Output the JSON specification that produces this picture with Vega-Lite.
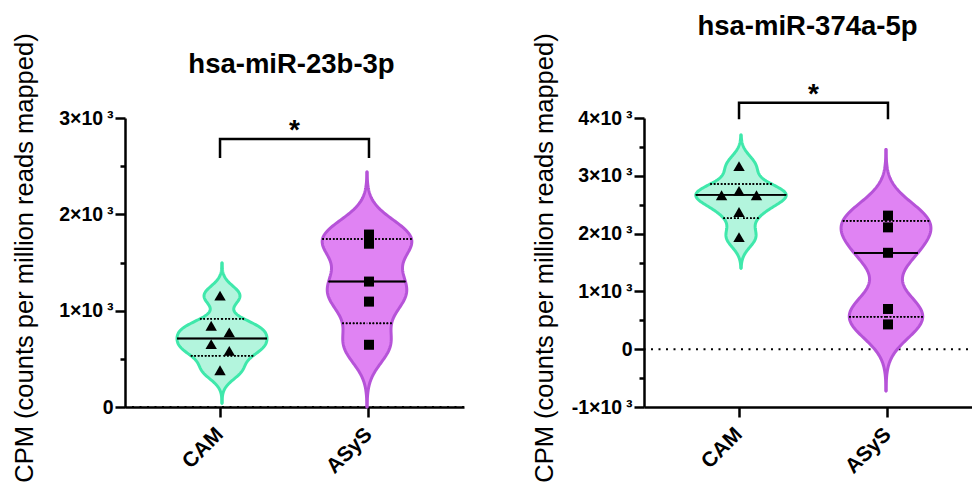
{
  "$schema": "https://vega.github.io/schema/vega-lite/v6.json",
  "background": "white",
  "padding": {"left": 11, "top": 12, "right": 0, "bottom": 0},
  "bounds": "flush",
  "spacing": 180,
  "config": {
    "view": {"stroke": null},
    "font": "Liberation Sans",
    "axis": {
      "domainColor": "black", "domainWidth": 2.5, "tickColor": "black", "tickWidth": 2.5,
      "labelColor": "black", "labelFont": "Liberation Sans", "labelFontWeight": "bold",
      "grid": false, "titleColor": "black", "titleFont": "Liberation Sans", "titleFontWeight": "normal"
    }
  },
  "datasets": {
    "points": [
      {"panel": "p1", "group": "CAM", "value": 1156, "jitter": 0},
      {"panel": "p1", "group": "CAM", "value": 844, "jitter": -0.43},
      {"panel": "p1", "group": "CAM", "value": 774, "jitter": 0.45},
      {"panel": "p1", "group": "CAM", "value": 653, "jitter": -0.43},
      {"panel": "p1", "group": "CAM", "value": 583, "jitter": 0.45},
      {"panel": "p1", "group": "CAM", "value": 382, "jitter": 0},
      {"panel": "p1", "group": "ASyS", "value": 1790, "jitter": 0},
      {"panel": "p1", "group": "ASyS", "value": 1695, "jitter": 0},
      {"panel": "p1", "group": "ASyS", "value": 1302, "jitter": 0},
      {"panel": "p1", "group": "ASyS", "value": 1094, "jitter": 0},
      {"panel": "p1", "group": "ASyS", "value": 646, "jitter": 0},
      {"panel": "p2", "group": "CAM", "value": 3167, "jitter": 0},
      {"panel": "p2", "group": "CAM", "value": 2740, "jitter": 0},
      {"panel": "p2", "group": "CAM", "value": 2663, "jitter": -0.85},
      {"panel": "p2", "group": "CAM", "value": 2663, "jitter": 0.85},
      {"panel": "p2", "group": "CAM", "value": 2373, "jitter": 0},
      {"panel": "p2", "group": "CAM", "value": 1940, "jitter": 0},
      {"panel": "p2", "group": "ASyS", "value": 2311, "jitter": 0},
      {"panel": "p2", "group": "ASyS", "value": 2108, "jitter": 0},
      {"panel": "p2", "group": "ASyS", "value": 1668, "jitter": 0},
      {"panel": "p2", "group": "ASyS", "value": 696, "jitter": 0},
      {"panel": "p2", "group": "ASyS", "value": 429, "jitter": 0}
    ],
    "brackets": [
      {"panel": "p1", "group": "CAM", "value": 2585, "ord": 1},
      {"panel": "p1", "group": "CAM", "value": 2783, "ord": 2},
      {"panel": "p1", "group": "ASyS", "value": 2783, "ord": 3},
      {"panel": "p1", "group": "ASyS", "value": 2585, "ord": 4},
      {"panel": "p2", "group": "CAM", "value": 3980, "ord": 1},
      {"panel": "p2", "group": "CAM", "value": 4265, "ord": 2},
      {"panel": "p2", "group": "ASyS", "value": 4265, "ord": 3},
      {"panel": "p2", "group": "ASyS", "value": 3980, "ord": 4}
    ],
    "signif": [
      {"panel": "p1", "group": "CAM vs ASyS", "value": 2783, "label": "*"},
      {"panel": "p2", "group": "CAM vs ASyS", "value": 4265, "label": "*"}
    ]
  },
  "hconcat": [
    {
      "width": 339, "height": 289,
      "title": {"text": "hsa-miR-23b-3p", "font": "Liberation Sans", "fontSize": 27.5, "fontWeight": "bold", "color": "black", "anchor": "middle", "frame": "group", "offset": -45.5, "dx": -3},
      "encoding": {
        "y": {
          "field": "value", "type": "quantitative",
          "scale": {"domain": [0, 3000], "nice": false, "zero": false},
          "axis": {
            "values": [0, 500, 1000, 1500, 2000, 2500, 3000],
            "labelExpr": "datum.value % 1000 != 0 ? '' : (datum.value == 0 ? '0' : (datum.value / 1000) + '×10\u2009³')",
            "labelFontSize": 19.5, "labelPadding": 2, "labelOverlap": false, "labelFlush": false,
            "tickSize": {"condition": {"test": "datum.value % 1000 != 0", "value": 5}, "value": 10},
            "title": "CPM (counts per million reads mapped)", "titleFontSize": 25.5,
            "titleX": -93, "titleY": 139.5, "titleAngle": -90, "titleBaseline": "alphabetic", "titleAlign": "center"
          }
        }
      },
      "layer": [
        {
          "data": {"values": [{"value": 0}]},
          "mark": {"type": "rule", "color": "black", "strokeWidth": 2, "strokeDash": [2, 5.5]},
          "encoding": {}
        },
        {
          "data": {"name": "points"},
          "transform": [{"filter": "datum.panel == 'p1' && datum.group == 'CAM'"}],
          "layer": [
            {
              "encoding": {"x": {"field": "density", "type": "quantitative", "stack": null, "scale": {"domain": [-0.0036175, 0.0090251], "nice": false}, "axis": null}},
              "layer": [
                {"transform": [{"density": "value", "bandwidth": 100, "extent": [40, 1495], "steps": 200}],
                 "mark": {"type": "area", "orient": "horizontal", "color": "#b3f5dd", "strokeWidth": 0}, "encoding": {"x2": {"datum": 0}}},
                {"transform": [{"density": "value", "bandwidth": 100, "extent": [40, 1495], "steps": 200}],
                 "mark": {"type": "line", "color": "#3fe8ab", "strokeWidth": 3, "strokeCap": "round"}, "encoding": {"order": {"field": "value", "type": "quantitative"}}},
                {"transform": [{"density": "value", "bandwidth": 100, "extent": [710, 710.5], "steps": 2}],
                 "mark": {"type": "rule", "color": "black", "strokeWidth": 1.5}, "encoding": {"x2": {"datum": 0}}},
                {"transform": [{"density": "value", "bandwidth": 100, "extent": [915, 915.5], "steps": 2}],
                 "mark": {"type": "rule", "color": "black", "strokeWidth": 1.5, "strokeDash": [1.5, 2]}, "encoding": {"x2": {"datum": 0}}},
                {"transform": [{"density": "value", "bandwidth": 100, "extent": [532, 532.5], "steps": 2}],
                 "mark": {"type": "rule", "color": "black", "strokeWidth": 1.5, "strokeDash": [1.5, 2]}, "encoding": {"x2": {"datum": 0}}}
              ]
            },
            {
              "encoding": {"x": {"field": "density", "type": "quantitative", "stack": null, "scale": {"domain": [-0.0090251, 0.0036175], "nice": false, "reverse": true}, "axis": null}},
              "layer": [
                {"transform": [{"density": "value", "bandwidth": 100, "extent": [40, 1495], "steps": 200}],
                 "mark": {"type": "area", "orient": "horizontal", "color": "#b3f5dd", "strokeWidth": 0}, "encoding": {"x2": {"datum": 0}}},
                {"transform": [{"density": "value", "bandwidth": 100, "extent": [40, 1495], "steps": 200}],
                 "mark": {"type": "line", "color": "#3fe8ab", "strokeWidth": 3, "strokeCap": "round"}, "encoding": {"order": {"field": "value", "type": "quantitative"}}},
                {"transform": [{"density": "value", "bandwidth": 100, "extent": [710, 710.5], "steps": 2}],
                 "mark": {"type": "rule", "color": "black", "strokeWidth": 1.5}, "encoding": {"x2": {"datum": 0}}},
                {"transform": [{"density": "value", "bandwidth": 100, "extent": [915, 915.5], "steps": 2}],
                 "mark": {"type": "rule", "color": "black", "strokeWidth": 1.5, "strokeDash": [1.5, 2]}, "encoding": {"x2": {"datum": 0}}},
                {"transform": [{"density": "value", "bandwidth": 100, "extent": [532, 532.5], "steps": 2}],
                 "mark": {"type": "rule", "color": "black", "strokeWidth": 1.5, "strokeDash": [1.5, 2]}, "encoding": {"x2": {"datum": 0}}}
              ]
            }
          ],
          "resolve": {"scale": {"x": "independent"}}
        },
        {
          "data": {"name": "points"},
          "transform": [{"filter": "datum.panel == 'p1' && datum.group == 'ASyS'"}],
          "layer": [
            {
              "encoding": {"x": {"field": "density", "type": "quantitative", "stack": null, "scale": {"domain": [-0.0044958, 0.001802], "nice": false}, "axis": null}},
              "layer": [
                {"transform": [{"density": "value", "bandwidth": 195, "extent": [0, 2440], "steps": 200}],
                 "mark": {"type": "area", "orient": "horizontal", "color": "#e083f3", "strokeWidth": 0}, "encoding": {"x2": {"datum": 0}}},
                {"transform": [{"density": "value", "bandwidth": 195, "extent": [0, 2440], "steps": 200}],
                 "mark": {"type": "line", "color": "#b653d8", "strokeWidth": 3, "strokeCap": "round"}, "encoding": {"order": {"field": "value", "type": "quantitative"}}},
                {"transform": [{"density": "value", "bandwidth": 195, "extent": [1302, 1302.5], "steps": 2}],
                 "mark": {"type": "rule", "color": "black", "strokeWidth": 1.5}, "encoding": {"x2": {"datum": 0}}},
                {"transform": [{"density": "value", "bandwidth": 195, "extent": [1743, 1743.5], "steps": 2}],
                 "mark": {"type": "rule", "color": "black", "strokeWidth": 1.5, "strokeDash": [1.5, 2]}, "encoding": {"x2": {"datum": 0}}},
                {"transform": [{"density": "value", "bandwidth": 195, "extent": [868, 868.5], "steps": 2}],
                 "mark": {"type": "rule", "color": "black", "strokeWidth": 1.5, "strokeDash": [1.5, 2]}, "encoding": {"x2": {"datum": 0}}}
              ]
            },
            {
              "encoding": {"x": {"field": "density", "type": "quantitative", "stack": null, "scale": {"domain": [-0.001802, 0.0044958], "nice": false, "reverse": true}, "axis": null}},
              "layer": [
                {"transform": [{"density": "value", "bandwidth": 195, "extent": [0, 2440], "steps": 200}],
                 "mark": {"type": "area", "orient": "horizontal", "color": "#e083f3", "strokeWidth": 0}, "encoding": {"x2": {"datum": 0}}},
                {"transform": [{"density": "value", "bandwidth": 195, "extent": [0, 2440], "steps": 200}],
                 "mark": {"type": "line", "color": "#b653d8", "strokeWidth": 3, "strokeCap": "round"}, "encoding": {"order": {"field": "value", "type": "quantitative"}}},
                {"transform": [{"density": "value", "bandwidth": 195, "extent": [1302, 1302.5], "steps": 2}],
                 "mark": {"type": "rule", "color": "black", "strokeWidth": 1.5}, "encoding": {"x2": {"datum": 0}}},
                {"transform": [{"density": "value", "bandwidth": 195, "extent": [1743, 1743.5], "steps": 2}],
                 "mark": {"type": "rule", "color": "black", "strokeWidth": 1.5, "strokeDash": [1.5, 2]}, "encoding": {"x2": {"datum": 0}}},
                {"transform": [{"density": "value", "bandwidth": 195, "extent": [868, 868.5], "steps": 2}],
                 "mark": {"type": "rule", "color": "black", "strokeWidth": 1.5, "strokeDash": [1.5, 2]}, "encoding": {"x2": {"datum": 0}}}
              ]
            }
          ],
          "resolve": {"scale": {"x": "independent"}}
        },
        {
          "encoding": {
            "x": {
              "field": "group", "type": "nominal",
              "scale": {"type": "band", "domain": ["CAM", "CAM vs ASyS", "ASyS"], "paddingInner": 0.44828, "paddingOuter": 1.0621},
              "axis": {"values": ["CAM", "ASyS"], "title": null, "labelAngle": -45, "labelAlign": "right", "labelBaseline": "middle", "labelFontSize": 21, "labelPadding": 14, "tickSize": 10}
            }
          },
          "layer": [
            {
              "data": {"name": "points"},
              "transform": [{"filter": "datum.panel == 'p1'"}],
              "mark": {"type": "point", "filled": true, "color": "black", "opacity": 1, "strokeWidth": 0},
              "encoding": {
                "xOffset": {"field": "jitter", "type": "quantitative", "scale": {"domain": [-1, 1]}},
                "shape": {"field": "group", "type": "nominal", "scale": {"domain": ["CAM", "ASyS"], "range": ["triangle-up", "square"]}, "legend": null},
                "size": {"field": "group", "type": "nominal", "scale": {"domain": ["CAM", "ASyS"], "range": [130, 100]}, "legend": null}
              }
            },
            {
              "data": {"name": "brackets"},
              "transform": [{"filter": "datum.panel == 'p1'"}],
              "mark": {"type": "line", "color": "black", "strokeWidth": 2.5, "strokeJoin": "miter", "clip": false},
              "encoding": {"order": {"field": "ord", "type": "quantitative"}}
            },
            {
              "data": {"name": "signif"},
              "transform": [{"filter": "datum.panel == 'p1'"}],
              "mark": {"type": "text", "font": "Liberation Sans", "fontSize": 28, "fontWeight": "bold", "baseline": "alphabetic", "align": "center", "color": "black"},
              "encoding": {"text": {"field": "label"}}
            }
          ]
        }
      ],
      "resolve": {"scale": {"x": "independent"}}
    },
    {
      "width": 339, "height": 289,
      "title": {"text": "hsa-miR-374a-5p", "font": "Liberation Sans", "fontSize": 27.5, "fontWeight": "bold", "color": "black", "anchor": "middle", "frame": "group", "offset": -7.5, "dx": -6},
      "encoding": {
        "y": {
          "field": "value", "type": "quantitative",
          "scale": {"domain": [-1000, 4000], "nice": false, "zero": false},
          "axis": {
            "values": [-1000, -500, 0, 500, 1000, 1500, 2000, 2500, 3000, 3500, 4000],
            "labelExpr": "datum.value % 1000 != 0 ? '' : (datum.value == 0 ? '0' : (datum.value / 1000) + '×10\u2009³')",
            "labelFontSize": 19.5, "labelPadding": 2, "labelOverlap": false, "labelFlush": false,
            "tickSize": {"condition": {"test": "datum.value % 1000 != 0", "value": 5}, "value": 10},
            "title": "CPM (counts per million reads mapped)", "titleFontSize": 25.5,
            "titleX": -92, "titleY": 139.5, "titleAngle": -90, "titleBaseline": "alphabetic", "titleAlign": "center"
          }
        }
      },
      "layer": [
        {
          "data": {"values": [{"value": 0}]},
          "mark": {"type": "rule", "color": "black", "strokeWidth": 2, "strokeDash": [2, 5.5]},
          "encoding": {}
        },
        {
          "data": {"name": "points"},
          "transform": [{"filter": "datum.panel == 'p2' && datum.group == 'CAM'"}],
          "layer": [
            {
              "encoding": {"x": {"field": "density", "type": "quantitative", "stack": null, "scale": {"domain": [-0.0025401, 0.0063371], "nice": false}, "axis": null}},
              "layer": [
                {"transform": [{"density": "value", "bandwidth": 180, "extent": [1400, 3705], "steps": 200}],
                 "mark": {"type": "area", "orient": "horizontal", "color": "#b3f5dd", "strokeWidth": 0}, "encoding": {"x2": {"datum": 0}}},
                {"transform": [{"density": "value", "bandwidth": 180, "extent": [1400, 3705], "steps": 200}],
                 "mark": {"type": "line", "color": "#3fe8ab", "strokeWidth": 3, "strokeCap": "round"}, "encoding": {"order": {"field": "value", "type": "quantitative"}}},
                {"transform": [{"density": "value", "bandwidth": 180, "extent": [2670, 2670.5], "steps": 2}],
                 "mark": {"type": "rule", "color": "black", "strokeWidth": 1.5}, "encoding": {"x2": {"datum": 0}}},
                {"transform": [{"density": "value", "bandwidth": 180, "extent": [2858, 2858.5], "steps": 2}],
                 "mark": {"type": "rule", "color": "black", "strokeWidth": 1.5, "strokeDash": [1.5, 2]}, "encoding": {"x2": {"datum": 0}}},
                {"transform": [{"density": "value", "bandwidth": 180, "extent": [2267, 2267.5], "steps": 2}],
                 "mark": {"type": "rule", "color": "black", "strokeWidth": 1.5, "strokeDash": [1.5, 2]}, "encoding": {"x2": {"datum": 0}}}
              ]
            },
            {
              "encoding": {"x": {"field": "density", "type": "quantitative", "stack": null, "scale": {"domain": [-0.0063371, 0.0025401], "nice": false, "reverse": true}, "axis": null}},
              "layer": [
                {"transform": [{"density": "value", "bandwidth": 180, "extent": [1400, 3705], "steps": 200}],
                 "mark": {"type": "area", "orient": "horizontal", "color": "#b3f5dd", "strokeWidth": 0}, "encoding": {"x2": {"datum": 0}}},
                {"transform": [{"density": "value", "bandwidth": 180, "extent": [1400, 3705], "steps": 200}],
                 "mark": {"type": "line", "color": "#3fe8ab", "strokeWidth": 3, "strokeCap": "round"}, "encoding": {"order": {"field": "value", "type": "quantitative"}}},
                {"transform": [{"density": "value", "bandwidth": 180, "extent": [2670, 2670.5], "steps": 2}],
                 "mark": {"type": "rule", "color": "black", "strokeWidth": 1.5}, "encoding": {"x2": {"datum": 0}}},
                {"transform": [{"density": "value", "bandwidth": 180, "extent": [2858, 2858.5], "steps": 2}],
                 "mark": {"type": "rule", "color": "black", "strokeWidth": 1.5, "strokeDash": [1.5, 2]}, "encoding": {"x2": {"datum": 0}}},
                {"transform": [{"density": "value", "bandwidth": 180, "extent": [2267, 2267.5], "steps": 2}],
                 "mark": {"type": "rule", "color": "black", "strokeWidth": 1.5, "strokeDash": [1.5, 2]}, "encoding": {"x2": {"datum": 0}}}
              ]
            }
          ],
          "resolve": {"scale": {"x": "independent"}}
        },
        {
          "data": {"name": "points"},
          "transform": [{"filter": "datum.panel == 'p2' && datum.group == 'ASyS'"}],
          "layer": [
            {
              "encoding": {"x": {"field": "density", "type": "quantitative", "stack": null, "scale": {"domain": [-0.0028698, 0.0011503], "nice": false}, "axis": null}},
              "layer": [
                {"transform": [{"density": "value", "bandwidth": 340, "extent": [-725, 3455], "steps": 200}],
                 "mark": {"type": "area", "orient": "horizontal", "color": "#e083f3", "strokeWidth": 0}, "encoding": {"x2": {"datum": 0}}},
                {"transform": [{"density": "value", "bandwidth": 340, "extent": [-725, 3455], "steps": 200}],
                 "mark": {"type": "line", "color": "#b653d8", "strokeWidth": 3, "strokeCap": "round"}, "encoding": {"order": {"field": "value", "type": "quantitative"}}},
                {"transform": [{"density": "value", "bandwidth": 340, "extent": [1665, 1665.5], "steps": 2}],
                 "mark": {"type": "rule", "color": "black", "strokeWidth": 1.5}, "encoding": {"x2": {"datum": 0}}},
                {"transform": [{"density": "value", "bandwidth": 340, "extent": [2220, 2220.5], "steps": 2}],
                 "mark": {"type": "rule", "color": "black", "strokeWidth": 1.5, "strokeDash": [1.5, 2]}, "encoding": {"x2": {"datum": 0}}},
                {"transform": [{"density": "value", "bandwidth": 340, "extent": [562, 562.5], "steps": 2}],
                 "mark": {"type": "rule", "color": "black", "strokeWidth": 1.5, "strokeDash": [1.5, 2]}, "encoding": {"x2": {"datum": 0}}}
              ]
            },
            {
              "encoding": {"x": {"field": "density", "type": "quantitative", "stack": null, "scale": {"domain": [-0.0011503, 0.0028698], "nice": false, "reverse": true}, "axis": null}},
              "layer": [
                {"transform": [{"density": "value", "bandwidth": 340, "extent": [-725, 3455], "steps": 200}],
                 "mark": {"type": "area", "orient": "horizontal", "color": "#e083f3", "strokeWidth": 0}, "encoding": {"x2": {"datum": 0}}},
                {"transform": [{"density": "value", "bandwidth": 340, "extent": [-725, 3455], "steps": 200}],
                 "mark": {"type": "line", "color": "#b653d8", "strokeWidth": 3, "strokeCap": "round"}, "encoding": {"order": {"field": "value", "type": "quantitative"}}},
                {"transform": [{"density": "value", "bandwidth": 340, "extent": [1665, 1665.5], "steps": 2}],
                 "mark": {"type": "rule", "color": "black", "strokeWidth": 1.5}, "encoding": {"x2": {"datum": 0}}},
                {"transform": [{"density": "value", "bandwidth": 340, "extent": [2220, 2220.5], "steps": 2}],
                 "mark": {"type": "rule", "color": "black", "strokeWidth": 1.5, "strokeDash": [1.5, 2]}, "encoding": {"x2": {"datum": 0}}},
                {"transform": [{"density": "value", "bandwidth": 340, "extent": [562, 562.5], "steps": 2}],
                 "mark": {"type": "rule", "color": "black", "strokeWidth": 1.5, "strokeDash": [1.5, 2]}, "encoding": {"x2": {"datum": 0}}}
              ]
            }
          ],
          "resolve": {"scale": {"x": "independent"}}
        },
        {
          "encoding": {
            "x": {
              "field": "group", "type": "nominal",
              "scale": {"type": "band", "domain": ["CAM", "CAM vs ASyS", "ASyS"], "paddingInner": 0.44828, "paddingOuter": 1.0621},
              "axis": {"values": ["CAM", "ASyS"], "title": null, "labelAngle": -45, "labelAlign": "right", "labelBaseline": "middle", "labelFontSize": 21, "labelPadding": 14, "tickSize": 10}
            }
          },
          "layer": [
            {
              "data": {"name": "points"},
              "transform": [{"filter": "datum.panel == 'p2'"}],
              "mark": {"type": "point", "filled": true, "color": "black", "opacity": 1, "strokeWidth": 0},
              "encoding": {
                "xOffset": {"field": "jitter", "type": "quantitative", "scale": {"domain": [-1, 1]}},
                "shape": {"field": "group", "type": "nominal", "scale": {"domain": ["CAM", "ASyS"], "range": ["triangle-up", "square"]}, "legend": null},
                "size": {"field": "group", "type": "nominal", "scale": {"domain": ["CAM", "ASyS"], "range": [130, 100]}, "legend": null}
              }
            },
            {
              "data": {"name": "brackets"},
              "transform": [{"filter": "datum.panel == 'p2'"}],
              "mark": {"type": "line", "color": "black", "strokeWidth": 2.5, "strokeJoin": "miter", "clip": false},
              "encoding": {"order": {"field": "ord", "type": "quantitative"}}
            },
            {
              "data": {"name": "signif"},
              "transform": [{"filter": "datum.panel == 'p2'"}],
              "mark": {"type": "text", "font": "Liberation Sans", "fontSize": 28, "fontWeight": "bold", "baseline": "alphabetic", "align": "center", "color": "black"},
              "encoding": {"text": {"field": "label"}}
            }
          ]
        }
      ],
      "resolve": {"scale": {"x": "independent"}}
    }
  ]
}
